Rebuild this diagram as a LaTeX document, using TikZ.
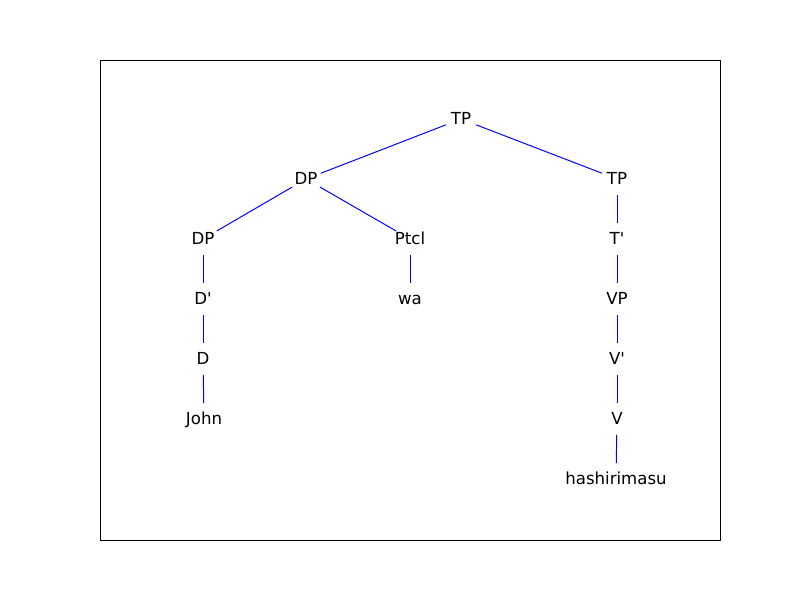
\documentclass[tikz,border=0pt]{standalone}
\usepackage{fontspec}
\setmainfont{DejaVu Sans}
\usepackage{tikz}
\tikzset{
	lbl/.style={inner sep=0pt, text height=0.729em, text depth=0pt, font=\fontsize{11.8}{14}\selectfont},
	branch/.style={blue, line width=0.7pt, shorten >=0.4cm, shorten <=0.4cm}
}

\begin{document}
\begin{tikzpicture}
			%%%%% START %%%%%
			
			\useasboundingbox (0, 0) rectangle (20, 15);
			\draw[line width=0.7pt] (2.5, 1.5) rectangle (18, 13.5);
			
			\node[lbl] (tp) at (11.525, 12.025) {TP};
			\node[lbl] (dp) at (7.65, 10.525) {DP};
			\node[lbl] (tpr) at (15.425, 10.525) {TP};
			
			\node[lbl] (dpl) at (5.075, 9.025) {DP};
			\node[lbl] (ptcl) at (10.25, 9.025) {Ptcl};
			\node[lbl] (tbar) at (15.425, 9.025) {T\textquotesingle};
			
			\node[lbl] (dbar) at (5.075, 7.525) {D\textquotesingle};
			\node[lbl] (wa) at (10.25, 7.525) {wa};
			\node[lbl] (vp) at (15.425, 7.525) {VP};
			
			\node[lbl] (d) at (5.075, 6.025) {D};
			\node[lbl] (vbar) at (15.425, 6.025) {V\textquotesingle};
			
			\node[lbl] (john) at (5.1, 4.525) {John};
			\node[lbl] (v) at (15.425, 4.525) {V};
			
			\node[lbl] (hash) at (15.4, 3.025) {hashirimasu};
			
			\draw[branch] (tp.center) -- (dp.center);
			\draw[branch] (tp.center) -- (tpr.center);
			\draw[branch] (dp.center) -- (dpl.center);
			\draw[branch] (dp.center) -- (ptcl.center);
			\draw[branch] (dpl.center) -- (dbar.center);
			\draw[branch] (dbar.center) -- (d.center);
			\draw[branch] (d.center) -- (john.center);
			\draw[branch] (ptcl.center) -- (wa.center);
			\draw[branch] (tpr.center) -- (tbar.center);
			\draw[branch] (tbar.center) -- (vp.center);
			\draw[branch] (vp.center) -- (vbar.center);
			\draw[branch] (vbar.center) -- (v.center);
			\draw[branch] (v.center) -- (hash.center);
			
			%%%%% END %%%%%
\end{tikzpicture}
\end{document}
